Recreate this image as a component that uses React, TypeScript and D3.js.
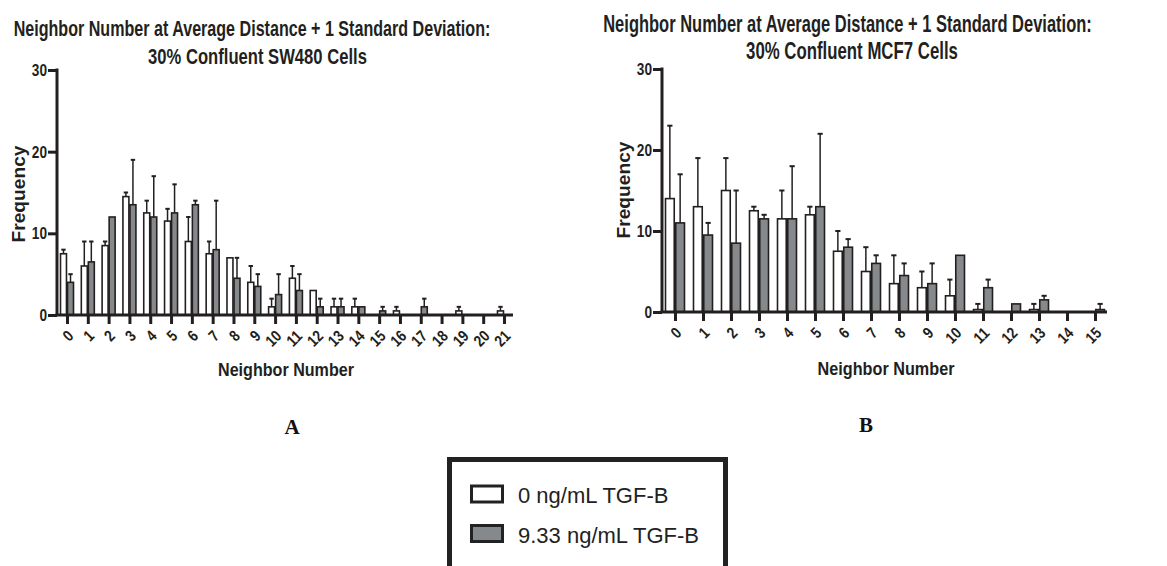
import * as d3 from 'd3'
import { useEffect, useRef } from 'react'

// panel A: SW480
const catsA = ['0', '1', '2', '3', '4', '5', '6', '7', '8', '9', '10', '11', '12', '13', '14', '15', '16', '17', '18', '19', '20', '21']
const whiteA = [7.5, 6, 8.5, 14.5, 12.5, 11.5, 9, 7.5, 7, 4, 1, 4.5, 3, 1, 1, 0, 0.5, 0, 0, 0.5, 0, 0.5]
const sdWhiteA = [0.5, 3, 0.5, 0.5, 1.5, 1.5, 3, 1.5, 0, 2, 1, 1.5, 0, 1, 1, 0, 0.5, 0, 0, 0.5, 0, 0.5]
const greyA = [4, 6.5, 12, 13.5, 12, 12.5, 13.5, 8, 4.5, 3.5, 2.5, 3, 1, 1, 1, 0.5, 0, 1, 0, 0, 0, 0]
const sdGreyA = [1, 2.5, 0, 5.5, 5, 3.5, 0.5, 6, 2.5, 1.5, 2.5, 2, 1, 1, 0, 0.5, 0, 1, 0, 0, 0, 0]

// panel B: MCF7
const catsB = ['0', '1', '2', '3', '4', '5', '6', '7', '8', '9', '10', '11', '12', '13', '14', '15']
const whiteB = [14, 13, 15, 12.5, 11.5, 12, 7.5, 5, 3.5, 3, 2, 0.3, 0, 0.3, 0, 0]
const sdWhiteB = [9, 6, 4, 0.5, 3.5, 1, 2.5, 3, 3.5, 2, 2, 0.7, 0, 0.7, 0, 0]
const greyB = [11, 9.5, 8.5, 11.5, 11.5, 13, 8, 6, 4.5, 3.5, 7, 3, 1, 1.5, 0, 0.3]
const sdGreyB = [6, 1.5, 6.5, 0.5, 6.5, 9, 1, 1, 1.5, 2.5, 0, 1, 0, 0.5, 0, 0.7]

const yTicks = [0, 10, 20, 30]
const seriesNames = ['0 ng/mL TGF-B', '9.33 ng/mL TGF-B']

const INK = '#231f20'
const GREY = '#86898c'
const FONT = "'Liberation Sans', Arial, sans-serif"

function drawPanel(svg, p) {
  const g = svg.append('g')
  const x = d3.scalePoint().domain(p.cats).range([p.tick0, p.tickN])
  const inner = d3.scaleBand().domain(['w', 'g']).range([-p.half, p.half]).paddingInner(0.15)
  const y = d3.scaleLinear().domain([0, 30]).range([p.y0, p.yTop])

  const rows = p.cats.flatMap((c, i) => [
    { c, k: 'w', v: p.white[i], sd: p.sdWhite[i], fill: '#fff' },
    { c, k: 'g', v: p.grey[i], sd: p.sdGrey[i], fill: GREY },
  ])

  // error bars, upper side only
  const eb = g.append('g').attr('stroke', INK).attr('stroke-width', 1.5)
  rows.filter((d) => d.sd > 0).forEach((d) => {
    const cx = x(d.c) + inner(d.k) + inner.bandwidth() / 2
    eb.append('line').attr('x1', cx).attr('x2', cx).attr('y1', y(d.v)).attr('y2', y(d.v + d.sd))
    eb.append('line').attr('x1', cx - p.cap).attr('x2', cx + p.cap).attr('y1', y(d.v + d.sd)).attr('y2', y(d.v + d.sd)).attr('stroke-width', 2)
  })

  g.append('g').selectAll('rect').data(rows.filter((d) => d.v > 0)).join('rect')
    .attr('x', (d) => x(d.c) + inner(d.k))
    .attr('width', inner.bandwidth())
    .attr('y', (d) => y(d.v))
    .attr('height', (d) => y(0) - y(d.v))
    .attr('fill', (d) => d.fill)
    .attr('stroke', INK)
    .attr('stroke-width', 1.6)

  // y axis
  const ya = g.append('g').attr('transform', `translate(${p.axisLeft},0)`)
    .call(d3.axisLeft(y).tickValues(yTicks).tickSize(9).tickPadding(1))
  ya.select('.domain').remove()
  ya.selectAll('line').attr('stroke', INK).attr('stroke-width', 3)
  ya.selectAll('text').attr('font-family', FONT).attr('font-weight', 'bold').attr('font-size', 17).attr('fill', INK)
    .attr('textLength', (d) => String(d).length * 7.6).attr('lengthAdjust', 'spacingAndGlyphs')
  g.append('line').attr('x1', p.axisLeft).attr('x2', p.axisLeft).attr('y1', y(30) - 1.5).attr('y2', y(0))
    .attr('stroke', INK).attr('stroke-width', 3)

  // x axis
  const xa = g.append('g').attr('transform', `translate(0,${p.y0})`)
    .call(d3.axisBottom(x).tickSize(9))
  xa.select('.domain').remove()
  xa.selectAll('line').attr('stroke', INK).attr('stroke-width', 3)
  xa.selectAll('text')
    .attr('font-family', FONT).attr('font-weight', 'bold').attr('font-size', 16).attr('fill', INK)
    .attr('textLength', (d) => String(d).length * 7.4).attr('lengthAdjust', 'spacingAndGlyphs')
    .attr('text-anchor', 'end').attr('x', 0).attr('y', 0).attr('dy', '0.35em')
    .attr('transform', 'translate(3,18) rotate(-45)')
  g.append('line').attr('x1', p.axisLeft - 1.5).attr('x2', p.axisRight).attr('y1', p.y0).attr('y2', p.y0)
    .attr('stroke', INK).attr('stroke-width', 3)

  // titles: condensed by a horizontal scale so they fit the measured width
  const t = g.append('g').attr('font-family', FONT).attr('font-weight', 'bold').attr('fill', INK).attr('text-anchor', 'middle')
  p.titles.forEach((tt) => {
    const txt = t.append('text').attr('font-size', tt.size).text(tt.text)
    const w = txt.node().getComputedTextLength() || tt.len
    txt.attr('transform', `translate(${tt.x},${tt.y}) scale(${tt.len / w},1)`)
  })
  t.append('text').attr('transform', `translate(${p.freq[0]},${p.freq[1]}) rotate(-90)`).attr('dy', '0.35em')
    .attr('font-size', 18).attr('textLength', 97).attr('lengthAdjust', 'spacingAndGlyphs').text('Frequency')

  g.append('text').attr('x', p.letter[0]).attr('y', p.letter[1]).attr('text-anchor', 'middle')
    .attr('font-family', "'Liberation Serif', 'Times New Roman', serif").attr('font-weight', 'bold')
    .attr('font-size', 21).attr('fill', '#111').text(p.letter[2])
}

export default function App() {
  const ref = useRef(null)
  useEffect(() => {
    const el = ref.current
    if (!el) return
    el.innerHTML = ''
    const svg = d3.select(el).append('svg').attr('width', 1167).attr('height', 566)
      .style('position', 'absolute').style('left', 0).style('top', 0).style('background', '#fff')

    drawPanel(svg, {
      cats: catsA, white: whiteA, sdWhite: sdWhiteA, grey: greyA, sdGrey: sdGreyA,
      axisLeft: 57, axisRight: 513, tick0: 67, tickN: 504, y0: 315, yTop: 70, half: 6.5, cap: 2.2,
      titles: [
        { text: 'Neighbor Number at Average Distance + 1 Standard Deviation:', x: 252, y: 36, size: 22, len: 477 },
        { text: '30% Confluent SW480 Cells', x: 257.5, y: 64, size: 22, len: 219 },
        { text: 'Neighbor Number', x: 286, y: 376, size: 19, len: 136 },
      ],
      freq: [19, 194], letter: [292, 434, 'A'],
    })
    drawPanel(svg, {
      cats: catsB, white: whiteB, sdWhite: sdWhiteB, grey: greyB, sdGrey: sdGreyB,
      axisLeft: 662, axisRight: 1107, tick0: 675, tickN: 1095, y0: 312, yTop: 69, half: 9.5, cap: 2.6,
      titles: [
        { text: 'Neighbor Number at Average Distance + 1 Standard Deviation:', x: 847.5, y: 32, size: 23, len: 489 },
        { text: '30% Confluent MCF7 Cells', x: 852, y: 59, size: 23, len: 212 },
        { text: 'Neighbor Number', x: 886, y: 375, size: 19, len: 137 },
      ],
      freq: [624, 190], letter: [866, 432, 'B'],
    })

    // legend
    const lg = svg.append('g')
    lg.append('rect').attr('x', 449.5).attr('y', 459.5).attr('width', 276).attr('height', 130)
      .attr('fill', '#fff').attr('stroke', '#222').attr('stroke-width', 5)
    const fills = ['#fff', GREY]
    seriesNames.forEach((name, i) => {
      const yy = 486 + i * 39.5
      lg.append('rect').attr('x', 471.5).attr('y', yy).attr('width', 31).attr('height', 16)
        .attr('fill', fills[i]).attr('stroke', '#222').attr('stroke-width', 3)
      lg.append('text').attr('x', 518).attr('y', yy + 17).attr('font-family', FONT)
        .attr('font-size', 22).attr('fill', '#222').text(name)
    })
  }, [])
  return <div ref={ref} />
}
